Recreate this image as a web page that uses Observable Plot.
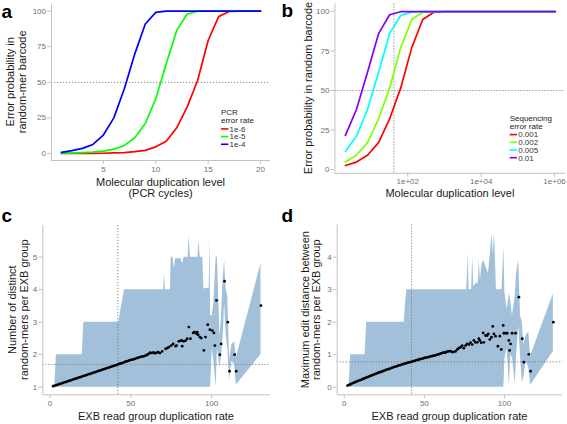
<!DOCTYPE html>
<html><head><meta charset="utf-8">
<script src="https://cdn.jsdelivr.net/npm/d3@7"></script>
<script src="https://cdn.jsdelivr.net/npm/@observablehq/plot@0.6"></script>
<style>
html,body{margin:0;padding:0;background:#fff;}
#fig{position:relative;width:567px;height:424px;overflow:hidden;background:#fff;font-family:"Liberation Sans",Arial,Helvetica,sans-serif;}
#fig svg{position:absolute;overflow:visible;}
</style></head>
<body><div id="fig"></div>
<script>
// ---------------- Panel a data ----------------
const aCycles = [1,2,3,4,5,6,7,8,9,10,11,12,13,14,15,16,17,18,19,20];
const aRates = ["1e-6","1e-5","1e-4"];
const aColors = ["#FF0000","#00FF00","#0000FF"];
const aProb1e6 = [0,0,0,0.05,0.1,0.3,0.6,1.2,2.1,4.6,8.6,18,32.7,51.4,79.4,96.2,99.8,100,100,100];
const aProb1e5 = [0,0.2,0.5,0.9,1.6,3,5.6,11,21,38.5,63,86.5,98,100,100,100,100,100,100,100];
const aProb1e4 = [0.7,1.9,3.5,6.3,12.9,25,45.5,70,91,99.2,100,100,100,100,100,100,100,100,100,100];
const aTicksX = [5,10,15,20];
const aTicksY = [0,25,50,75,100];

// ---------------- Panel b data ----------------
const bLevels = [2,4,8,16,32,64,128,256,512,1024,2048,4096,8192,16384,32768,65536,131072,262144,524288,1048576];
const bRates = ["0.001","0.002","0.005","0.01"];
const bColors = ["#FF0000","#80FF00","#00FFFF","#8000FF"];
const bProb0001 = [2.5,4.7,9.0,17.0,32.0,51.5,77.0,95.0,99.5,100,100,100,100,100,100,100,100,100,100,100];
const bProb0002 = [4.7,9.0,17.0,32.0,51.5,77.0,95.0,99.5,100,100,100,100,100,100,100,100,100,100,100,100];
const bProb0005 = [11.6,21.0,38.0,61.5,86.0,97.5,99.6,100,100,100,100,100,100,100,100,100,100,100,100,100];
const bProb001  = [21.6,38.0,61.5,86.0,98.0,99.9,100,100,100,100,100,100,100,100,100,100,100,100,100,100];
const bTicksX = [100,10000,1000000];
const bTickLabels = ["1e+02","1e+04","1e+06"];
const bTicksY = [0,25,50,75,100];

const refProb = 50;   // dotted horizontal line, panels a & b
const refDup = 42;    // dotted vertical line, panels b, c, d

// ---------------- Panel c data ----------------
const cPointX = [2,3,4,5,6,7,8,9,10,11,12,13,14,15,16,17,18,19,20,21,22,23,24,25,26,27,28,29,30,31,32,33,34,35,36,37,38,39,40,41,42,43,44,45,46,47,48,49,50,51,52,53,54,55,56,57,58,59,60,61,62,63,64,65,66,67,68,
  69.4,71.5,72.5,73.5,75.0,76.2,77.7,78.3,79.7,80.8,81.8,81.8,82.8,83.9,84.9,85.9,86.9,88.6,89.4,90.7,91.1,91.7,92.7,93.6,95.2,96.2,97.6,98.9,100.4,101.4,102.0,103.0,105.1,105.9,108.0,110.0,111.1,114.2,115.2,130.5];
const cPointY = [1.03,1.05,1.06,1.08,1.10,1.11,1.13,1.15,1.16,1.18,1.20,1.21,1.23,1.25,1.26,1.28,1.30,1.31,1.33,1.35,1.36,1.38,1.40,1.41,1.43,1.45,1.46,1.48,1.50,1.51,1.53,1.55,1.56,1.58,1.60,1.61,1.63,1.65,1.66,1.68,1.70,1.72,1.73,1.75,1.77,1.79,1.80,1.82,1.84,1.85,1.86,1.88,1.90,1.91,1.93,1.94,1.95,1.97,1.99,2.02,2.06,2.05,2.07,2.04,2.06,2.08,2.05,
  2.10,2.18,2.20,2.23,2.28,2.33,2.26,2.28,2.41,2.43,2.43,2.26,2.41,2.43,2.49,2.85,2.49,2.67,2.69,2.64,2.69,2.61,2.54,2.51,2.13,2.54,2.92,2.77,2.74,2.67,2.28,3.67,2.00,2.33,4.26,3.00,1.49,2.00,1.49,3.51];
const cRibX  = [3,4,20,21,42.6,46.1,70.4,70.9,71.5,74.5,75.0,76.2,77.0,77.7,81.0,82.0,83.0,85.5,85.9,86.9,91.5,92.1,93.0,94.5,95.2,98.5,99.0,99.3,100.4,101.4,102.8,103.6,105.1,105.9,107.2,108.0,109.0,110.0,111.1,112.5,114.2,115.3,130.5];
const cRibLo = [1,1,1,1,1,1,1,1,1,1,1,1,1,1,1,1,1,1,1,1,1,1,1,1,1,1,1,1,2.2,1.8,1.0,2.2,1.6,1.9,2.6,3.6,2.6,2.2,1.18,1.8,1.7,1.07,2.0];
const cRibHi = [1,2,2,3,3,4,4,4.49,4.0,4.0,5.0,5.0,4.64,4.95,4.95,4.8,5.0,5.0,5.67,5.0,5.0,5.5,5.0,5.0,4.02,4.05,5.6,3.2,3.2,3.6,5.0,5.0,2.6,3.0,4.4,4.9,4.0,3.8,1.85,2.3,2.4,1.9,4.8];
const cTicksX = [0,50,100];
const cTicksY = [1,2,3,4,5];
const cRefY = 1.70;

// ---------------- Panel d data ----------------
const dPointX = [2,3,4,5,6,7,8,9,10,11,12,13,14,15,16,17,18,19,20,21,22,23,24,25,26,27,28,29,30,31,32,33,34,35,36,37,38,39,40,41,42,43,44,45,46,47,48,49,50,51,52,53,54,55,56,57,58,59,60,61,62,63,64,65,66,67,68,
  69.4,70.5,71.5,72.6,73.6,74.6,75.7,76.7,77.8,78.8,79.9,80.9,81.9,83.0,84.0,84.6,85.5,86.7,87.1,88.2,89.2,89.9,90.9,91.9,92.7,93.4,94.4,95.9,97.1,98.0,99.2,99.6,100.7,101.7,102.7,103.2,103.8,104.8,106.9,109.0,111.1,112.1,115.2,116.3,130.5];
const dPointY = [0.05,0.07,0.09,0.12,0.14,0.16,0.18,0.20,0.22,0.24,0.26,0.28,0.30,0.32,0.34,0.36,0.38,0.40,0.42,0.44,0.46,0.47,0.49,0.51,0.53,0.55,0.56,0.58,0.60,0.62,0.63,0.65,0.67,0.68,0.70,0.71,0.73,0.74,0.76,0.77,0.78,0.80,0.81,0.83,0.84,0.86,0.87,0.88,0.90,0.91,0.92,0.93,0.95,0.96,0.97,0.98,1.00,1.01,1.03,1.05,1.07,1.06,1.09,1.10,1.11,1.09,1.08,
  1.10,1.16,1.20,1.23,1.28,1.20,1.28,1.33,1.31,1.37,1.31,1.44,1.38,1.38,1.49,1.44,1.37,1.67,1.38,1.59,1.59,1.64,1.47,1.54,1.87,1.64,1.57,1.26,1.57,1.16,1.90,1.66,1.66,1.66,1.44,1.13,1.33,1.66,1.66,2.77,1.49,0.77,1.01,0.49,2.00];
const dRibX  = [3,4,13,14,37.4,39,76.5,77.3,77.9,79.5,80.2,80.8,82.5,83.6,84.3,85.0,86.0,87.2,88.5,90.0,91.0,92.3,93.0,93.8,95.0,98.5,99.6,100.3,101.7,103.1,104.0,105.0,106.7,107.5,108.9,110.0,111.1,112.1,113.5,115.2,116.3,130.5];
const dRibLo = [0,0,0,0,0,0,0,0,0,0,0,0,0,0,0,0,0,0,0,0,0,0,0,0,0,0,0,0.9,1.2,0.05,1.0,0.9,0.1,0.9,1.9,1.0,0.15,0.3,0.8,0.6,0.05,1.1];
const dRibHi = [0,1,1,2,2,3,3,4.1,3.0,3.0,4.0,3.1,3.2,3.2,3.9,3.3,3.8,3.9,3.7,3.5,4.0,4.7,4.1,4.75,3.0,3.0,4.3,2.9,2.4,2.9,2.6,2.2,2.8,3.5,3.9,2.2,2.0,1.3,1.6,1.7,0.95,2.87];
const dTicksX = [0,50,100];
const dTicksY = [0,1,2,3,4];
const dRefY = 0.78;

// ---------------- Titles ----------------
const aTitleY = ["Error probability in","random-mer barcode"];
const aTitleX = ["Molecular duplication level","(PCR cycles)"];
const bTitleY = ["Error probability in random barcode"];
const bTitleX = ["Molecular duplication level"];
const cTitleY = ["Number of distinct","random-mers per EXB group"];
const dTitleY = ["Maximum edit distance between","random-mers per EXB group"];
const cdTitleX = ["EXB read group duplication rate"];
const aLegendTitle = ["PCR","error rate"];
const bLegendTitle = ["Sequencing","error rate"];

// ---------------- Drawing ----------------
const FONT = '"Liberation Sans", Arial, Helvetica, sans-serif';
const AXIS_GRAY = "#c2c2c2";
const LABEL_GRAY = "#6f6f6f";
const REF_COLOR = "#777";
const fig = document.getElementById("fig");

function place(svg, left, top) {
  svg.style.left = left + "px";
  svg.style.top = top + "px";
  fig.appendChild(svg);
}

function axisMarks(xDom, yDom, xTicks, yTicks, xFmt) {
  return [
    Plot.ruleX([xDom[0]], {stroke: AXIS_GRAY, strokeWidth: 1}),
    Plot.ruleY([yDom[0]], {stroke: AXIS_GRAY, strokeWidth: 1}),
    Plot.axisX(xTicks, {tickSize: 4, tickPadding: 1.5, stroke: AXIS_GRAY, fill: LABEL_GRAY, label: null, fontSize: 8, tickFormat: xFmt}),
    Plot.axisY(yTicks, {tickSize: 4, tickPadding: 1.5, stroke: AXIS_GRAY, fill: LABEL_GRAY, label: null, fontSize: 8})
  ];
}

const style = {fontFamily: FONT, fontSize: "8px", background: "transparent", overflow: "visible"};

// Panel a
const aRows = [];
[aProb1e6, aProb1e5, aProb1e4].forEach((arr, k) => arr.forEach((v, i) => aRows.push({x: aCycles[i], y: v, s: aRates[k]})));
const aXDom = [0.05, 20.95], aYDom = [-5, 105];
place(Plot.plot({
  width: 283, height: 210, marginLeft: 51, marginRight: 13, marginTop: 3.6, marginBottom: 50,
  x: {domain: aXDom, label: null}, y: {domain: aYDom, label: null},
  color: {domain: aRates, range: aColors},
  style,
  marks: [
    Plot.ruleY([refProb], {stroke: REF_COLOR, strokeWidth: 0.9, strokeDasharray: "1.2,1.8"}),
    Plot.line(aRows, {x: "x", y: "y", z: "s", stroke: "s", strokeWidth: 1.7}),
    ...axisMarks(aXDom, aYDom, aTicksX, aTicksY, d => String(d))
  ]
}), 0, 0);

// Panel b
const bRows = [];
[bProb0001, bProb0002, bProb0005, bProb001].forEach((arr, k) => arr.forEach((v, i) => bRows.push({x: bLevels[i], y: v, s: bRates[k]})));
const bXDom = [Math.pow(10, 0.015), Math.pow(10, 6.306)], bYDom = [-2.4, 104.9];
place(Plot.plot({
  width: 284, height: 210, marginLeft: 51.4, marginRight: 1.7, marginTop: 3.3, marginBottom: 37.2,
  x: {type: "log", domain: bXDom, label: null}, y: {domain: bYDom, label: null},
  color: {domain: bRates, range: bColors},
  style,
  marks: [
    Plot.ruleY([refProb], {stroke: REF_COLOR, strokeWidth: 0.9, strokeDasharray: "1.2,1.8"}),
    Plot.ruleX([refDup], {stroke: REF_COLOR, strokeWidth: 0.9, strokeDasharray: "1.2,1.8"}),
    Plot.line(bRows, {x: "x", y: "y", z: "s", stroke: "s", strokeWidth: 1.7}),
    ...axisMarks(bXDom, bYDom, bTicksX, bTicksY, d => bTickLabels[bTicksX.indexOf(d)])
  ]
}), 283, 0);

// Panel c
const cdXDom = [-4.4, 136.4];
const cYDom = [0.765, 5.975];
const cRib = cRibX.map((x, i) => ({x, lo: cRibLo[i], hi: cRibHi[i]}));
const cPts = cPointX.map((x, i) => ({x, y: cPointY[i]}));
place(Plot.plot({
  width: 283, height: 214, marginLeft: 42.3, marginRight: 13, marginTop: 15, marginBottom: 29.7,
  x: {domain: cdXDom, label: null}, y: {domain: cYDom, label: null},
  style,
  marks: [
    Plot.areaY(cRib, {x: "x", y1: "lo", y2: "hi", fill: "steelblue", fillOpacity: 0.5}),
    Plot.ruleY([cRefY], {stroke: REF_COLOR, strokeWidth: 0.9, strokeDasharray: "1.2,1.8"}),
    Plot.ruleX([refDup], {stroke: REF_COLOR, strokeWidth: 0.9, strokeDasharray: "1.2,1.8"}),
    Plot.dot(cPts, {x: "x", y: "y", r: 1.4, fill: "#000"}),
    ...axisMarks(cdXDom, cYDom, cTicksX, cTicksY, d => String(d))
  ]
}), 0, 210);

// Panel d
const dYDom = [-0.2375, 4.99];
const dRib = dRibX.map((x, i) => ({x, lo: dRibLo[i], hi: dRibHi[i]}));
const dPts = dPointX.map((x, i) => ({x, y: dPointY[i]}));
place(Plot.plot({
  width: 284, height: 214, marginLeft: 53.7, marginRight: 4.7, marginTop: 14.5, marginBottom: 29.6,
  x: {domain: cdXDom, label: null}, y: {domain: dYDom, label: null},
  style,
  marks: [
    Plot.areaY(dRib, {x: "x", y1: "lo", y2: "hi", fill: "steelblue", fillOpacity: 0.5}),
    Plot.ruleY([dRefY], {stroke: REF_COLOR, strokeWidth: 0.9, strokeDasharray: "1.2,1.8"}),
    Plot.ruleX([refDup], {stroke: REF_COLOR, strokeWidth: 0.9, strokeDasharray: "1.2,1.8"}),
    Plot.dot(dPts, {x: "x", y: "y", r: 1.4, fill: "#000"}),
    ...axisMarks(cdXDom, dYDom, dTicksX, dTicksY, d => String(d))
  ]
}), 283, 210);

// ---------------- Overlay: titles, panel letters, legends ----------------
const ov = d3.create("svg").attr("width", 567).attr("height", 424)
  .style("left", "0px").style("top", "0px").style("pointer-events", "none")
  .attr("font-family", FONT);

function letter(t, x, y) {
  ov.append("text").attr("x", x).attr("y", y).attr("font-size", 19).attr("font-weight", "bold").attr("fill", "#000").text(t);
}
letter("a", 1.5, 17.5); letter("b", 281.5, 17); letter("c", 1.5, 222); letter("d", 281.5, 222);

function yTitle(lines, xs, cy) {
  lines.forEach((t, i) => ov.append("text")
    .attr("transform", `translate(${xs[i]},${cy}) rotate(-90)`)
    .attr("text-anchor", "middle").attr("dy", "0.35em")
    .attr("font-size", 11).attr("fill", "#1a1a1a").text(t));
}
yTitle(aTitleY, [10.3, 22], 81.8);
yTitle(bTitleY, [308], 88);
yTitle(cTitleY, [12.5, 24.2], 309.7);
yTitle(dTitleY, [305.2, 316.6], 309.7);

function xTitle(lines, cx, baselines) {
  lines.forEach((t, i) => ov.append("text").attr("x", cx).attr("y", baselines[i])
    .attr("text-anchor", "middle").attr("font-size", 11).attr("fill", "#1a1a1a").text(t));
}
xTitle(aTitleX, 160.5, [186.2, 197.4]);
xTitle(bTitleX, 449.9, [197.2]);
xTitle(cdTitleX, 156, [419.6]);
xTitle(cdTitleX, 449.5, [419.6]);

function legend(title, titleYs, labels, colors, x, ys) {
  title.forEach((t, i) => ov.append("text").attr("x", x).attr("y", titleYs[i]).attr("dy", "0.33em")
    .attr("font-size", 8).attr("fill", "#1a1a1a").text(t));
  labels.forEach((t, i) => {
    ov.append("line").attr("x1", x).attr("x2", x + 7.3).attr("y1", ys[i]).attr("y2", ys[i])
      .attr("stroke", colors[i]).attr("stroke-width", 1.6);
    ov.append("text").attr("x", x + 8.5).attr("y", ys[i]).attr("dy", "0.35em")
      .attr("font-size", 8).attr("fill", "#333").text(t);
  });
}
legend(aLegendTitle, [112.4, 120.8], aRates, aColors, 221, [128.9, 136.6, 144.3]);
legend(bLegendTitle, [118.0, 126.4], bRates, bColors, 509.7, [134.6, 142.3, 150.0, 157.7]);

fig.appendChild(ov.node());
</script>
</body></html>
